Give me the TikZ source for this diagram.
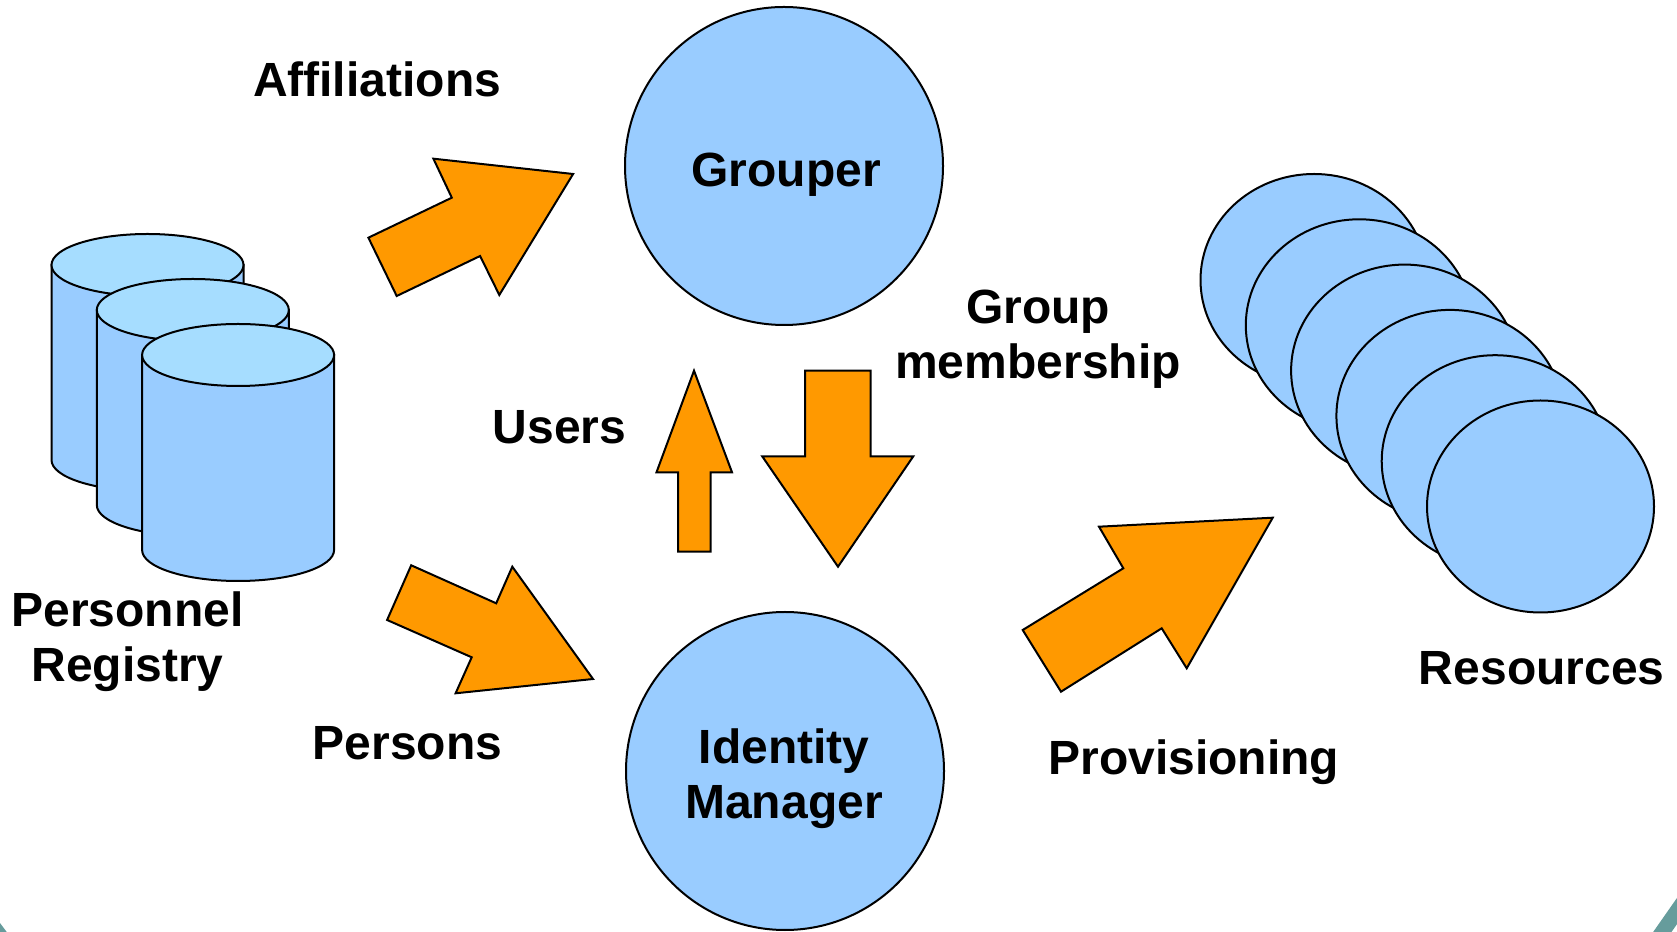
\documentclass[tikz,border=0pt]{standalone}
\usepackage{fontspec}
\setmainfont{Liberation Sans}
\usepackage{tikz}
\usepackage{xcolor}
\definecolor{boxblue}{HTML}{99CCFF}
\definecolor{topblue}{HTML}{A6DDFF}
\definecolor{flow}{HTML}{FF9900}
\definecolor{frameteal}{HTML}{669C9C}

\begin{document}
\begin{tikzpicture}[x=1pt,y=1pt,
		blob/.style={circle,draw,line width=2pt,fill=boxblue,minimum size=318pt,inner sep=0pt},
		disk/.style={draw,line width=2pt,fill=boxblue},
		disktop/.style={draw,line width=2pt,fill=topblue},
		flowarrow/.style={draw,line width=2pt,fill=flow,line join=miter},
		frame/.style={draw=frameteal,line width=15pt},
		lbl/.style={font=\fontsize{48}{55}\selectfont\bfseries,align=center,anchor=base,inner sep=0pt}]
			\useasboundingbox (0,0) rectangle (1677,931);
			\clip (0,0) rectangle (1677,931);
			\fill[white] (0,0) rectangle (1677,931);
			\draw[frame] (1635,-40) -- (1705,60);
			\draw[frame] (-40,48.8) -- (30,-44.5);

			\foreach \i in {0,1,2}
			{
				\pgfmathsetmacro\cx{147.5+45.3*\i}
				\pgfmathsetmacro\ty{666-45*\i}
				\filldraw[disk] (\cx-96,\ty) -- (\cx-96,\ty-195) arc (180:360:96pt and 31pt) -- (\cx+96,\ty) -- cycle;
				\filldraw[disktop] (\cx,\ty) ellipse (96pt and 31pt);
			}
			\foreach \i in {0,...,5}
				\filldraw[disk] ({1314+45.3*\i},{651-45.3*\i}) ellipse (113.5pt and 106pt);

			\node[blob] (grouper) at (784,765) {};
			\node[blob] (idm) at (785,160) {};

			\filldraw[flowarrow] (368.4,693.3) -- (396.7,635) -- (480.1,675) -- (499.3,636) -- (573.1,757) -- (433.4,772.3) -- (451.8,733.3) -- cycle;
			\filldraw[flowarrow] (694,560.3) -- (732,458.7) -- (710.5,458.7) -- (710.5,379.3) -- (678,379.3) -- (678,458.7) -- (656.5,458.7) -- cycle;
			\filldraw[flowarrow] (805,560.3) -- (870.5,560.3) -- (870.5,474.7) -- (913.3,474.7) -- (838,364.3) -- (762.2,474.7) -- (805,474.7) -- cycle;
			\filldraw[flowarrow] (411.2,365.7) -- (496.2,327.7) -- (512.3,364.3) -- (593,252) -- (455.6,237.7) -- (471.7,273.7) -- (387.1,311) -- cycle;
			\filldraw[flowarrow] (1022.7,301) -- (1061,239.3) -- (1161.7,302.7) -- (1186.7,262.7) -- (1272.7,413.3) -- (1099,404.3) -- (1123.3,362.7) -- cycle;

			\node[lbl] (grouperlbl) at (786,744.3) {Grouper};
			\node[lbl] (idmlbl) at (784,112.7) {Identity\\Manager};
			\node[lbl] (affil) at (377,834) {Affiliations};
			\node[lbl] (users) at (559.5,487) {Users};
			\node[lbl] (membership) at (1038,552.7) {Group\\membership};
			\node[lbl] (registry) at (127.5,249.3) {Personnel\\Registry};
			\node[lbl] (persons) at (407.5,171) {Persons};
			\node[lbl] (provisioning) at (1193.8,156) {Provisioning};
			\node[lbl] (resources) at (1541.7,246) {Resources};
		\end{tikzpicture}
\end{document}
